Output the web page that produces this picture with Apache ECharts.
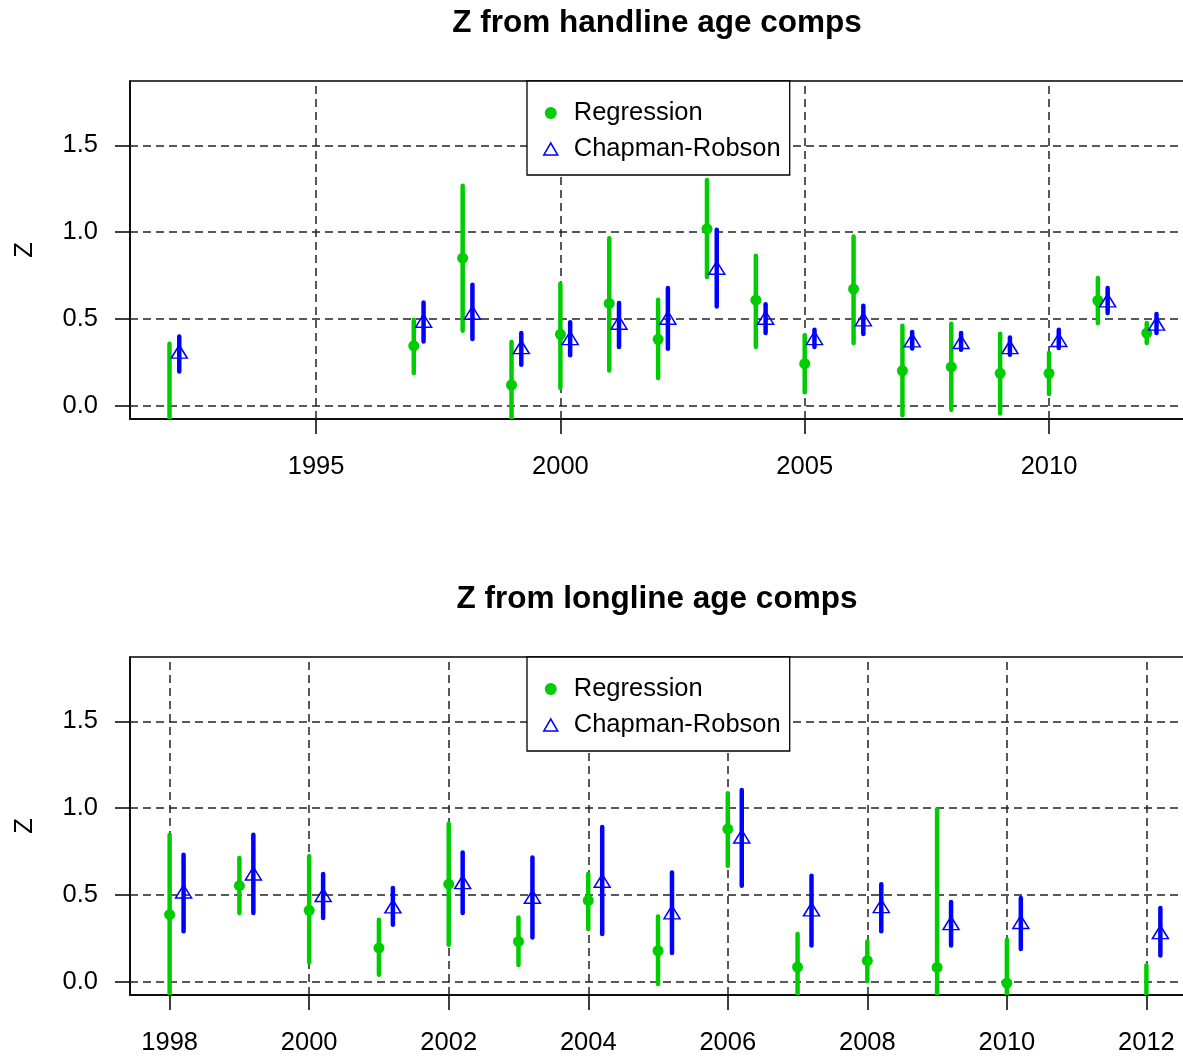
<!DOCTYPE html>
<html><head><meta charset="utf-8">
<script src="https://cdn.jsdelivr.net/npm/echarts@6/dist/echarts.min.js"></script>
<style>html,body{margin:0;padding:0;background:#fff}#c{width:1183px;height:1059px}</style>
</head><body><div id="c"></div>
<script>
// ---- Handline (top panel) ----
const hlYears = [1992,1997,1998,1999,2000,2001,2002,2003,2004,2005,2006,2007,2008,2009,2010,2011,2012];
const hlReg   = [-0.12,0.345,0.850,0.119,0.411,0.589,0.382,1.019,0.608,0.242,0.672,0.201,0.223,0.186,0.186,0.606,0.418];
const hlRegLo = [-0.60,0.188,0.432,-0.13,0.102,0.203,0.159,0.741,0.338,0.077,0.361,-0.056,-0.023,-0.046,0.067,0.476,0.361];
const hlRegHi = [0.357,0.495,1.268,0.367,0.702,0.965,0.610,1.301,0.864,0.405,0.975,0.461,0.472,0.415,0.303,0.735,0.476];
const hlCR    = [0.300,0.478,0.524,0.326,0.378,0.466,0.495,0.783,0.495,0.378,0.486,0.365,0.355,0.326,0.367,0.595,0.461];
const hlCRLo  = [0.197,0.370,0.384,0.236,0.290,0.338,0.328,0.572,0.418,0.338,0.413,0.330,0.322,0.294,0.332,0.534,0.418];
const hlCRHi  = [0.399,0.595,0.697,0.418,0.480,0.591,0.678,1.013,0.585,0.437,0.576,0.424,0.418,0.393,0.437,0.678,0.528];
const hlXTicks = [1995,2000,2005,2010];

// ---- Longline (bottom panel) ----
const llYears = [1998,1999,2000,2001,2002,2003,2004,2005,2006,2007,2008,2009,2010,2012];
const llReg   = [0.386,0.553,0.411,0.194,0.562,0.232,0.468,0.178,0.879,0.084,0.121,0.082,-0.008,-0.20];
const llRegLo = [-0.09,0.395,0.111,0.040,0.213,0.096,0.303,-0.013,0.668,-0.11,0.002,-0.83,-0.26,-0.50];
const llRegHi = [0.846,0.712,0.722,0.357,0.910,0.370,0.620,0.376,1.086,0.275,0.232,0.994,0.242,0.094];
const llCR    = [0.508,0.612,0.488,0.422,0.562,0.478,0.570,0.388,0.825,0.405,0.424,0.326,0.332,0.274];
const llCRLo  = [0.290,0.395,0.367,0.328,0.395,0.255,0.275,0.165,0.553,0.209,0.290,0.209,0.188,0.151];
const llCRHi  = [0.731,0.846,0.620,0.539,0.744,0.716,0.891,0.629,1.105,0.610,0.562,0.459,0.482,0.424];
const llXTicks = [1998,2000,2002,2004,2006,2008,2010,2012];

const yTicks = [0, 0.5, 1.0, 1.5];
const titles = ['Z from handline age comps', 'Z from longline age comps'];

const GREEN = '#00CD00', BLUE = '#0000FF';
const FONT = '"Liberation Sans", Arial, sans-serif';
const FS = 25.5;
const CR_OFFSET = 0.2;

function errRender(offset, color) {
  return function (params, api) {
    const x = api.value(0) + offset;
    const p1 = api.coord([x, api.value(1)]);
    const p2 = api.coord([x, api.value(2)]);
    return { type: 'line', shape: { x1: p1[0], y1: p1[1], x2: p2[0], y2: p2[1] },
      style: { stroke: color, lineWidth: 4.5, lineCap: 'round' } };
  };
}

const panels = [
  { years: hlYears, reg: hlReg, lo: hlRegLo, hi: hlRegHi, cr: hlCR, crLo: hlCRLo, crHi: hlCRHi,
    ticks: hlXTicks, top: 81, width: 1066 },
  { years: llYears, reg: llReg, lo: llRegLo, hi: llRegHi, cr: llCR, crLo: llCRLo, crHi: llCRHi,
    ticks: llXTicks, top: 657, width: 1070 }
];
const PLOT_H = 338;

const grid = [], xAxis = [], yAxis = [], series = [], legend = [], title = [];
panels.forEach((p, i) => {
  const xmin0 = Math.min(...p.years), xmax0 = Math.max(...p.years) + CR_OFFSET;
  const pad = (xmax0 - xmin0) * 0.04;
  grid.push({ left: 130, top: p.top, width: p.width, height: PLOT_H, show: true,
    borderColor: '#000', borderWidth: 1.5, backgroundColor: '#fff',
    containLabel: false, outerBoundsMode: 'none' });
  xAxis.push({ gridIndex: i, type: 'value', min: xmin0 - pad, max: xmax0 + pad,
    axisLine: { show: true, onZero: false, lineStyle: { color: '#000', width: 1.5 } },
    axisTick: { show: true, inside: false, length: 15, customValues: p.ticks, lineStyle: { color: '#000', width: 1.5 } },
    axisLabel: { show: true, customValues: p.ticks, margin: 35, fontSize: FS, color: '#000', fontFamily: FONT,
      formatter: v => String(Math.round(v)) },
    splitLine: { show: false } });
  yAxis.push({ gridIndex: i, type: 'value', min: -0.077, max: 1.871,
    name: 'Z', nameLocation: 'middle', nameRotate: 90, nameGap: 92,
    nameTextStyle: { fontSize: FS, color: '#000', fontFamily: FONT },
    axisLine: { show: true, onZero: false, lineStyle: { color: '#000', width: 1.5 } },
    axisTick: { show: true, inside: false, length: 15, customValues: yTicks, lineStyle: { color: '#000', width: 1.5 } },
    axisLabel: { show: true, customValues: yTicks, margin: 32, fontSize: FS, color: '#000', fontFamily: FONT,
      formatter: v => v.toFixed(1) },
    splitLine: { show: false } });
  // dashed reference grid
  series.push({ type: 'line', name: 'grid' + i, xAxisIndex: i, yAxisIndex: i, data: [], z: 1, silent: true,
    markLine: { silent: true, z: 1, symbol: ['none', 'none'], animation: false, label: { show: false },
      lineStyle: { type: [8, 5], color: '#222', width: 1.5 },
      emphasis: { disabled: true },
      data: p.ticks.map(v => ({ xAxis: v })).concat(yTicks.map(v => ({ yAxis: v }))) } });
  // regression CI
  series.push({ type: 'custom', name: 'Regression CI ' + i, xAxisIndex: i, yAxisIndex: i, clip: true, z: 3,
    renderItem: errRender(0, GREEN),
    data: p.years.map((y, k) => [y, p.lo[k], p.hi[k]]) });
  // CR CI
  series.push({ type: 'custom', name: 'Chapman-Robson CI ' + i, xAxisIndex: i, yAxisIndex: i, clip: true, z: 3,
    renderItem: errRender(CR_OFFSET, BLUE),
    data: p.years.map((y, k) => [y, p.crLo[k], p.crHi[k]]) });
  series.push({ type: 'scatter', name: 'Regression', xAxisIndex: i, yAxisIndex: i, clip: true, z: 4,
    symbol: 'circle', symbolSize: 11, itemStyle: { color: GREEN, opacity: 1 },
    data: p.years.map((y, k) => [y, p.reg[k]]) });
  series.push({ type: 'scatter', name: 'Chapman-Robson', xAxisIndex: i, yAxisIndex: i, clip: true, z: 4,
    symbol: 'triangle', symbolSize: [16, 13], symbolOffset: [0, -2],
    itemStyle: { color: 'rgba(0,0,0,0)', borderColor: BLUE, borderWidth: 1.5, opacity: 1 },
    data: p.years.map((y, k) => [y + CR_OFFSET, p.cr[k]]) });
  legend.push({ left: 527, top: p.top, orient: 'vertical', selectedMode: false,
    backgroundColor: '#fff', borderColor: '#000', borderWidth: 1.3, borderRadius: 0,
    padding: [19, 9, 13, 16], itemGap: 10, itemWidth: 14, itemHeight: 12,
    textStyle: { fontSize: FS, color: '#000', fontFamily: FONT, padding: [0, 0, 0, 11] },
    data: [
      { name: 'Regression', icon: 'circle', itemStyle: { color: GREEN } },
      { name: 'Chapman-Robson', icon: 'triangle',
        itemStyle: { color: 'rgba(0,0,0,0)', borderColor: BLUE, borderWidth: 1.5 } }
    ] });
  title.push({ text: titles[i], left: 652, top: i === 0 ? 2 : 578, textAlign: 'center',
    textStyle: { fontSize: 31.5, fontWeight: 'bold', color: '#000', fontFamily: FONT } });
});

const chart = echarts.init(document.getElementById('c'), null, { renderer: 'canvas' });
chart.setOption({ animation: false, backgroundColor: '#fff', title, legend, grid, xAxis, yAxis, series });
</script></body></html>
